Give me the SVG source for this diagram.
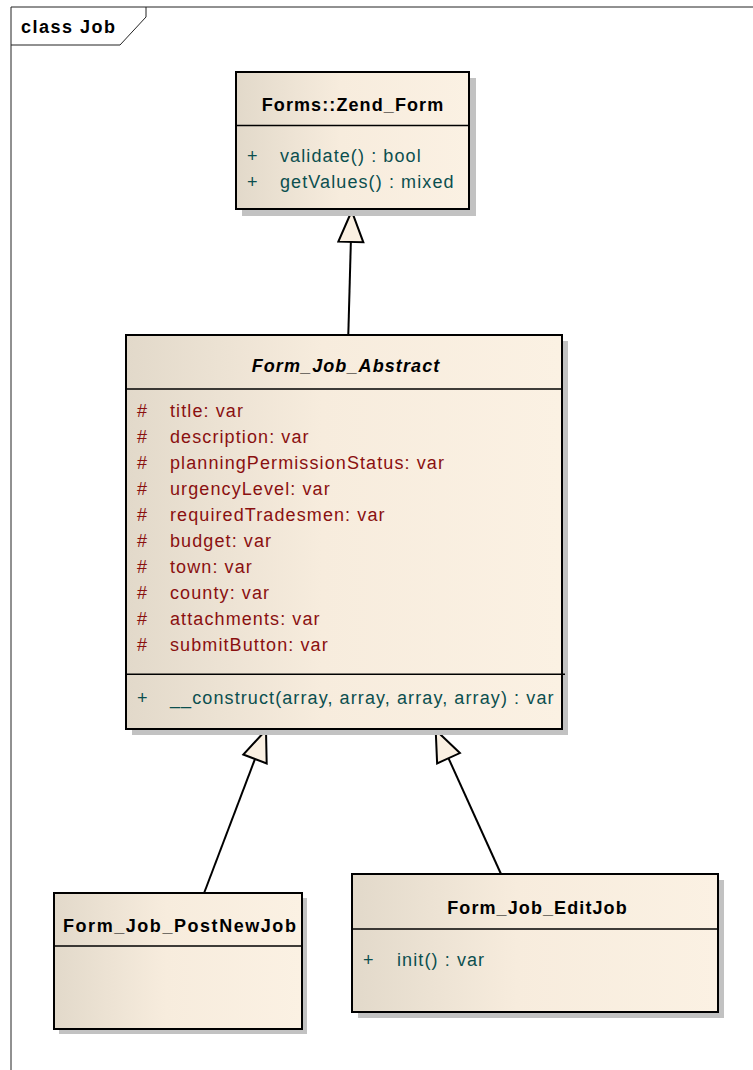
<svg xmlns="http://www.w3.org/2000/svg" width="753" height="1070" viewBox="0 0 753 1070">
  <style>
    .box { stroke: #000; stroke-width: 2; fill: url(#classFill); }
    .shadow { fill: #c2c2c2; }
    .div { stroke: #000; stroke-width: 1.5; }
    .name { font-family: "Liberation Sans", Arial, sans-serif; font-size: 18px; font-weight: bold; fill: #000; letter-spacing: 1.1px; }
    .attr { font-family: "Liberation Sans", Arial, sans-serif; font-size: 18px; fill: #8a1010; letter-spacing: 1.1px; }
    .op { font-family: "Liberation Sans", Arial, sans-serif; font-size: 18px; fill: #0b4f4f; letter-spacing: 1.1px; }
    .edge { stroke: #000; stroke-width: 2; fill: none; marker-end: url(#generalization); }
    .frame { stroke: #222; stroke-width: 1; fill: none; }
  </style>
  <defs>
    <linearGradient id="classFill" x1="0" y1="0" x2="1" y2="0">
      <stop offset="0" stop-color="#e2d9ca"/>
      <stop offset="0.45" stop-color="#f7ecdd"/>
      <stop offset="1" stop-color="#fbf1e3"/>
    </linearGradient>
    <marker id="generalization" markerUnits="userSpaceOnUse" orient="auto" viewBox="-34 -16 36 32" markerWidth="36" markerHeight="32" refX="0" refY="0" overflow="visible">
      <path d="M0,0 L-31,-12.5 L-31,12.5 Z" fill="#faf0e2" stroke="#000" stroke-width="2" stroke-linejoin="miter"/>
    </marker>
  </defs>

  <rect width="753" height="1070" fill="#fff"/>

  <!-- diagram frame -->
  <g id="frame">
    <path class="frame" d="M11,1070 L11,7 L753,7"/>
    <path class="frame" d="M11,45 L120,45 L146,17 L146,7"/>
    <text x="21" y="33" class="name" style="font-size:18px;letter-spacing:1.5px">class Job</text>
  </g>

  <!-- generalization connectors -->
  <g id="connectors">
    <line class="edge" x1="348.3" y1="335" x2="351.7" y2="211"/>
    <line class="edge" x1="204.3" y1="892.5" x2="266" y2="730"/>
    <line class="edge" x1="501" y1="874" x2="435.7" y2="730"/>
  </g>

  <!-- Forms::Zend_Form -->
  <g id="Forms_Zend_Form">
    <rect class="shadow" x="242" y="78" width="234" height="138"/>
    <rect class="box" x="236" y="72" width="233" height="137"/>
    <line class="div" x1="236" y1="125.5" x2="469" y2="125.5"/>
    <text x="353" y="110.5" class="name" text-anchor="middle">Forms::Zend_Form</text>
    <text x="247" y="161.5" class="op">+</text>
    <text x="280" y="161.5" class="op">validate() : bool</text>
    <text x="247" y="187.5" class="op">+</text>
    <text x="280" y="187.5" class="op">getValues() : mixed</text>
  </g>

  <!-- Form_Job_Abstract -->
  <g id="Form_Job_Abstract">
    <rect class="shadow" x="132" y="341" width="436" height="394"/>
    <rect class="box" x="126" y="335" width="436" height="394"/>
    <line class="div" x1="126" y1="389" x2="562" y2="389"/>
    <line class="div" x1="126" y1="674.3" x2="565" y2="674.3"/>
    <text x="346" y="371.5" class="name" text-anchor="middle" font-style="italic">Form_Job_Abstract</text>
    <g class="attr">
      <text x="137" y="417">#</text><text x="170" y="417">title:  var</text>
      <text x="137" y="443">#</text><text x="170" y="443">description:  var</text>
      <text x="137" y="469">#</text><text x="170" y="469">planningPermissionStatus:  var</text>
      <text x="137" y="495">#</text><text x="170" y="495">urgencyLevel:  var</text>
      <text x="137" y="521">#</text><text x="170" y="521">requiredTradesmen:  var</text>
      <text x="137" y="547">#</text><text x="170" y="547">budget:  var</text>
      <text x="137" y="573">#</text><text x="170" y="573">town:  var</text>
      <text x="137" y="599">#</text><text x="170" y="599">county:  var</text>
      <text x="137" y="625">#</text><text x="170" y="625">attachments:  var</text>
      <text x="137" y="651">#</text><text x="170" y="651">submitButton:  var</text>
    </g>
    <text x="137" y="704" class="op">+</text>
    <text x="170" y="704" class="op">__construct(array, array, array, array) : var</text>
  </g>

  <!-- Form_Job_PostNewJob -->
  <g id="Form_Job_PostNewJob">
    <rect class="shadow" x="59" y="898" width="248" height="136"/>
    <rect class="box" x="54" y="893" width="248" height="136"/>
    <line class="div" x1="54" y1="946" x2="302" y2="946"/>
    <text x="63" y="932" class="name" textLength="234" lengthAdjust="spacing">Form_Job_PostNewJob</text>
  </g>

  <!-- Form_Job_EditJob -->
  <g id="Form_Job_EditJob">
    <rect class="shadow" x="358" y="880" width="366" height="138"/>
    <rect class="box" x="352" y="874" width="366" height="138"/>
    <line class="div" x1="352" y1="929" x2="718" y2="929"/>
    <text x="537.5" y="913.5" class="name" text-anchor="middle">Form_Job_EditJob</text>
    <text x="363" y="966" class="op">+</text>
    <text x="397" y="966" class="op">init() : var</text>
  </g>
</svg>
